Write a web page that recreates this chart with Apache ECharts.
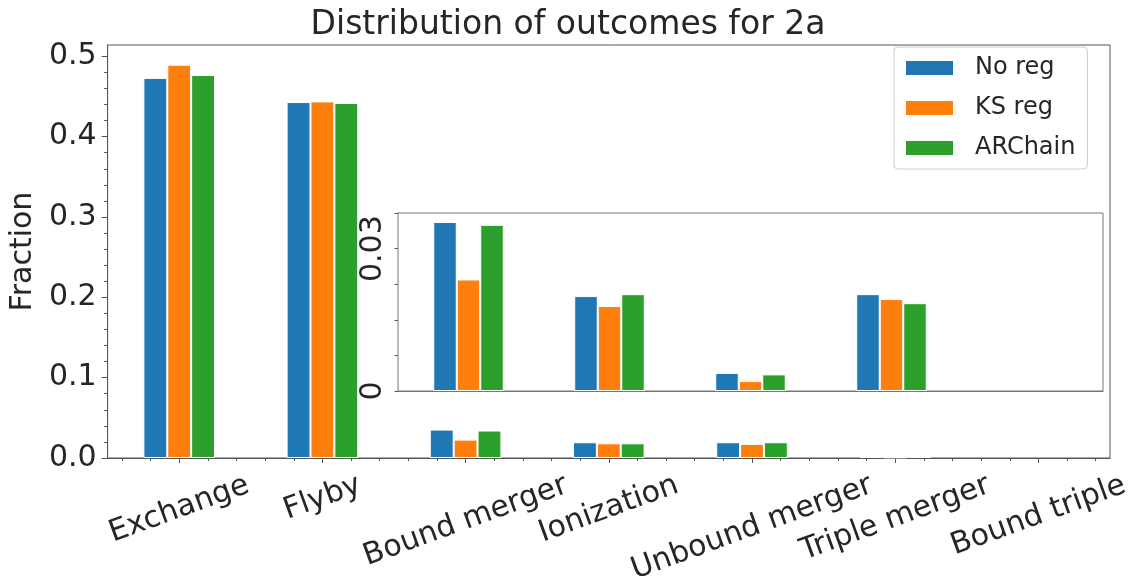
<!DOCTYPE html>
<html>
<head>
<meta charset="utf-8">
<script src="https://cdn.jsdelivr.net/npm/echarts@6/dist/echarts.min.js"></script>
<style>
html,body{margin:0;padding:0;background:#fff;}
#chart{width:1136px;height:580px;}
</style>
</head>
<body>
<div id="chart"></div>
<script>
// ---- data ----
const categories = ['Exchange', 'Flyby', 'Bound merger', 'Ionization', 'Unbound merger', 'Triple merger', 'Bound triple'];
const seriesNames = ['No reg', 'KS reg', 'ARChain'];
const noReg   = [0.4731, 0.4431, 0.0354, 0.0196, 0.0196, 0.0025, 0];
const ksReg   = [0.4896, 0.4439, 0.0229, 0.0183, 0.0175, 0.0008, 0];
const arChain = [0.4768, 0.4419, 0.0342, 0.0183, 0.0196, 0.0025, 0];

const insetCategories = ['Bound merger', 'Ionization', 'Unbound merger', 'Triple merger', 'Bound triple'];
const insetNoReg   = [0.0356, 0.0200, 0.0038, 0.0204, 0];
const insetKsReg   = [0.0235, 0.0179, 0.0021, 0.0194, 0];
const insetArChain = [0.0350, 0.0204, 0.0035, 0.0185, 0];

const yTicks = [0, 0.1, 0.2, 0.3, 0.4, 0.5];
const insetYTickLabels = [0, 0.03];
const insetYTicks = [0, 0.0075, 0.015, 0.0225, 0.03, 0.0375];

// ---- styling helpers ----
const colors = ['#1f77b4', '#ff7f0e', '#2ca02c'];
const FONT = '"DejaVu Sans", sans-serif';
const TXT = '#262626';
const SPINE = '#555';
const INSET_SPINE = '#777';
const TICK = '#555';
const LBL = 30;
const mainYMax = 0.5141;
const insetYMax = 0.0375;

// minor tick positions (matplotlib AutoMinorLocator style)
const yMinor = [];
for (let i = 1; i * 0.02 <= mainYMax + 1e-9; i++) { if (i % 5 !== 0) yMinor.push(+(i * 0.02).toFixed(4)); }
const xMinor = [];
for (let i = -2; i * 0.2 <= 6.5; i++) { if (i % 5 !== 0) xMinor.push(+(i * 0.2).toFixed(4)); }

// rotated x tick labels, centred on their tick like matplotlib
const ctx = document.createElement('canvas').getContext('2d');
ctx.font = LBL + 'px "DejaVu Sans"';
const ang = 20 * Math.PI / 180;
const LABEL_TOP_GAP = 10;

// zero-height bars get no white edge (so they do not paint over the axis line)
const toItems = d => d.map(v => v === 0 ? { value: v, itemStyle: { borderWidth: 0, opacity: 0 } } : v);

const mainSeries = [noReg, ksReg, arChain].map((d, i) => ({
  type: 'bar', name: seriesNames[i], data: toItems(d), xAxisIndex: 0, yAxisIndex: 0,
  barWidth: '16.6667%', barGap: '0%',
  itemStyle: { color: colors[i], borderColor: '#fff', borderWidth: 1 }
}));
const insetSeries = [insetNoReg, insetKsReg, insetArChain].map((d, i) => ({
  type: 'bar', name: seriesNames[i], data: toItems(d), xAxisIndex: 2, yAxisIndex: 2,
  barWidth: '16.6667%', barGap: '0%', z: 5,
  itemStyle: { color: colors[i], borderColor: '#fff', borderWidth: 1 }
}));
const xLabelSeries = {
  type: 'custom', name: 'xlabels', xAxisIndex: 0, yAxisIndex: 0, silent: true, clip: false, z: 10,
  data: categories.map((c, i) => [i, 0]),
  renderItem: (params, api) => {
    const i = api.value(0);
    const p = api.coord([i, 0]);
    const name = categories[i];
    const w = ctx.measureText(name).width;
    const h = LBL * 1.16;
    const H = w * Math.sin(ang) + h * Math.cos(ang);
    return {
      type: 'text', x: p[0], y: p[1] + LABEL_TOP_GAP + H / 2, rotation: ang,
      style: { text: name, fontSize: LBL, fontFamily: FONT, fill: TXT, align: 'center', verticalAlign: 'middle' }
    };
  }
};

const chart = echarts.init(document.getElementById('chart'), null, { renderer: 'canvas' });
chart.setOption({
  animation: false,
  backgroundColor: '#fff',
  textStyle: { fontFamily: FONT, color: TXT },
  title: {
    text: 'Distribution of outcomes for 2a', left: 'center', top: 0, padding: [9, 0, 0, 0],
    textStyle: { fontFamily: FONT, fontSize: 33, fontWeight: 'normal', color: TXT }
  },
  legend: {
    data: seriesNames, orient: 'vertical', left: 894, top: 47,
    itemWidth: 49, itemHeight: 16, itemGap: 16, icon: 'rect',
    padding: [9, 12, 9, 10],
    backgroundColor: '#fff', borderColor: '#cccccc', borderWidth: 1, borderRadius: 4,
    textStyle: { fontFamily: FONT, fontSize: 24, color: TXT, padding: [0, 0, 0, 16] },
    z: 20
  },
  grid: [
    { left: 103, top: 45, width: 1007, height: 413, show: true, borderColor: SPINE, borderWidth: 1, backgroundColor: '#fff' },
    { left: 398, top: 213, width: 705, height: 178, show: true, borderColor: INSET_SPINE, borderWidth: 1, backgroundColor: '#fff', z: 4 }
  ],
  xAxis: [
    {
      type: 'category', gridIndex: 0, data: categories, boundaryGap: true,
      axisLine: { show: true, onZero: false, lineStyle: { color: SPINE, width: 1 } },
      axisTick: { show: true, alignWithLabel: true, length: 5, lineStyle: { color: TICK } },
      axisLabel: { show: false },
      splitLine: { show: false }
    },
    {
      type: 'value', gridIndex: 0, min: -0.5, max: 6.5, position: 'bottom',
      axisLine: { show: false, onZero: false },
      axisTick: { show: true, length: 3, customValues: xMinor, lineStyle: { color: TICK } },
      axisLabel: { show: false },
      splitLine: { show: false }
    },
    {
      type: 'category', gridIndex: 1, data: insetCategories, boundaryGap: true,
      axisLine: { show: true, onZero: false, lineStyle: { color: INSET_SPINE, width: 1 } },
      axisTick: { show: false }, axisLabel: { show: false }, splitLine: { show: false }
    }
  ],
  yAxis: [
    {
      type: 'value', gridIndex: 0, min: 0, max: mainYMax,
      name: 'Fraction', nameLocation: 'middle', nameGap: 66,
      nameTextStyle: { fontFamily: FONT, fontSize: 30, color: TXT },
      axisLine: { show: true, onZero: false, lineStyle: { color: SPINE, width: 1 } },
      axisTick: { show: true, length: 6, customValues: yTicks, lineStyle: { color: TICK } },
      axisLabel: { customValues: yTicks, margin: 11, fontSize: LBL, fontFamily: FONT, color: TXT, formatter: v => v.toFixed(1) },
      splitLine: { show: false }
    },
    {
      type: 'value', gridIndex: 0, min: 0, max: mainYMax, position: 'left',
      axisLine: { show: false, onZero: false },
      axisTick: { show: true, length: 3.5, customValues: yMinor, lineStyle: { color: TICK } },
      axisLabel: { show: false }, splitLine: { show: false }
    },
    {
      type: 'value', gridIndex: 1, min: 0, max: insetYMax,
      axisLine: { show: true, onZero: false, lineStyle: { color: INSET_SPINE, width: 1 } },
      axisTick: { show: true, length: 3.5, customValues: insetYTicks, lineStyle: { color: TICK } },
      axisLabel: {
        customValues: insetYTickLabels, rotate: 90, margin: 10, fontSize: LBL, fontFamily: FONT, color: TXT,
        formatter: v => String(+v.toFixed(3))
      },
      splitLine: { show: false }
    }
  ],
  series: mainSeries.concat(insetSeries, [xLabelSeries])
});
</script>
</body>
</html>
